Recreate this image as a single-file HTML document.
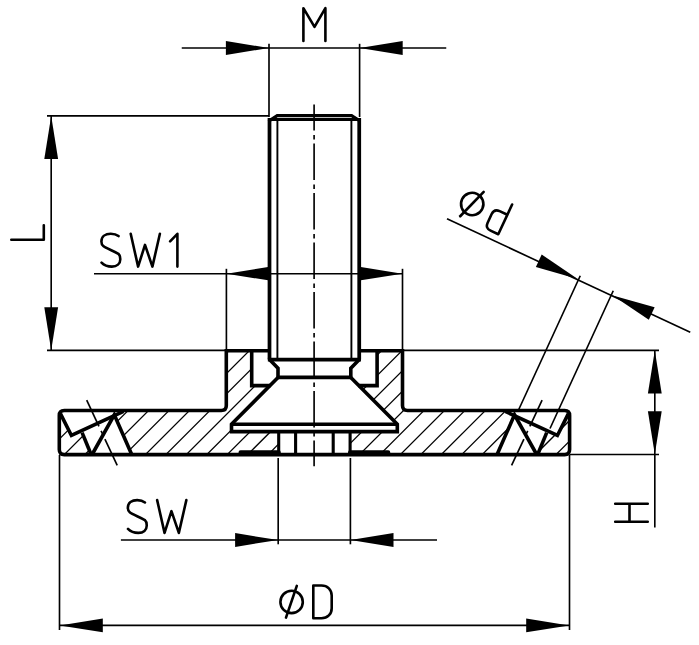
<!DOCTYPE html>
<html><head><meta charset="utf-8"><title>Drawing</title>
<style>
html,body{margin:0;padding:0;background:#fff;}
body{width:699px;height:645px;overflow:hidden;font-family:"Liberation Sans",sans-serif;}
svg{display:block;}
</style></head><body>
<svg width="699" height="645" viewBox="0 0 699 645" stroke="#000" fill="none">
<rect x="0" y="0" width="699" height="645" fill="#fff" stroke="none"/>
<defs>
<clipPath id="hl"><polygon points="226.30,350.70 251.70,350.70 251.70,385.60 270.20,385.60 231.50,424.30 231.50,431.60 278.70,431.60 278.70,454.60 131.50,454.60 114.30,414.90 114.30,410.50 226.30,410.50"/></clipPath>
<clipPath id="hr"><polygon points="402.50,350.70 377.10,350.70 377.10,385.60 358.60,385.60 397.30,424.30 397.30,431.60 350.10,431.60 350.10,454.60 497.30,454.60 514.50,414.90 514.50,410.50 402.50,410.50"/></clipPath>
<clipPath id="cl"><polygon points="59.30,410.50 60.60,414.30 71.40,435.50 81.50,430.80 90.90,453.20 90.90,454.60 59.30,454.60"/></clipPath>
<clipPath id="cr"><polygon points="569.60,410.50 568.20,414.30 557.40,435.50 547.30,430.80 537.90,453.20 537.90,454.60 569.60,454.60"/></clipPath>
</defs>
<g clip-path="url(#hl)" stroke-width="1.25">
<line x1="112.30" y1="365.00" x2="280.70" y2="196.60"/>
<line x1="112.30" y1="385.45" x2="280.70" y2="217.05"/>
<line x1="112.30" y1="405.90" x2="280.70" y2="237.50"/>
<line x1="112.30" y1="426.35" x2="280.70" y2="257.95"/>
<line x1="112.30" y1="446.80" x2="280.70" y2="278.40"/>
<line x1="112.30" y1="467.25" x2="280.70" y2="298.85"/>
<line x1="112.30" y1="487.70" x2="280.70" y2="319.30"/>
<line x1="112.30" y1="508.15" x2="280.70" y2="339.75"/>
<line x1="112.30" y1="528.60" x2="280.70" y2="360.20"/>
<line x1="112.30" y1="549.05" x2="280.70" y2="380.65"/>
<line x1="112.30" y1="569.50" x2="280.70" y2="401.10"/>
<line x1="112.30" y1="589.95" x2="280.70" y2="421.55"/>
<line x1="112.30" y1="610.40" x2="280.70" y2="442.00"/>
</g>
<g clip-path="url(#hr)" stroke-width="1.25">
<line x1="348.10" y1="363.70" x2="516.50" y2="195.30"/>
<line x1="348.10" y1="384.15" x2="516.50" y2="215.75"/>
<line x1="348.10" y1="404.60" x2="516.50" y2="236.20"/>
<line x1="348.10" y1="425.05" x2="516.50" y2="256.65"/>
<line x1="348.10" y1="445.50" x2="516.50" y2="277.10"/>
<line x1="348.10" y1="465.95" x2="516.50" y2="297.55"/>
<line x1="348.10" y1="486.40" x2="516.50" y2="318.00"/>
<line x1="348.10" y1="506.85" x2="516.50" y2="338.45"/>
<line x1="348.10" y1="527.30" x2="516.50" y2="358.90"/>
<line x1="348.10" y1="547.75" x2="516.50" y2="379.35"/>
<line x1="348.10" y1="568.20" x2="516.50" y2="399.80"/>
<line x1="348.10" y1="588.65" x2="516.50" y2="420.25"/>
<line x1="348.10" y1="609.10" x2="516.50" y2="440.70"/>
</g>
<g clip-path="url(#cl)" stroke-width="1.25">
<line x1="57.30" y1="420.40" x2="92.90" y2="384.80"/>
<line x1="57.30" y1="441.00" x2="92.90" y2="405.40"/>
<line x1="57.30" y1="461.60" x2="92.90" y2="426.00"/>
<line x1="57.30" y1="482.20" x2="92.90" y2="446.60"/>
</g>
<g clip-path="url(#cr)" stroke-width="1.25">
<line x1="535.90" y1="412.90" x2="571.60" y2="377.20"/>
<line x1="535.90" y1="433.50" x2="571.60" y2="397.80"/>
<line x1="535.90" y1="454.10" x2="571.60" y2="418.40"/>
<line x1="535.90" y1="474.70" x2="571.60" y2="439.00"/>
</g>
<line x1="181.75" y1="48.00" x2="446.25" y2="48.00" stroke-width="1.65" stroke-linecap="butt" />
<line x1="269.00" y1="43.80" x2="269.00" y2="117.00" stroke-width="1.65" stroke-linecap="butt" />
<line x1="359.60" y1="43.80" x2="359.60" y2="117.00" stroke-width="1.65" stroke-linecap="butt" />
<polygon points="268.90,48.00 225.90,54.90 225.90,41.10" fill="#000" stroke="none"/>
<polygon points="359.70,48.00 402.70,41.10 402.70,54.90" fill="#000" stroke="none"/>
<line x1="47.00" y1="115.80" x2="269.00" y2="115.80" stroke-width="1.65" stroke-linecap="butt" />
<line x1="47.00" y1="350.30" x2="226.30" y2="350.30" stroke-width="1.65" stroke-linecap="butt" />
<line x1="51.20" y1="116.00" x2="51.20" y2="350.00" stroke-width="1.65" stroke-linecap="butt" />
<polygon points="51.20,116.00 58.10,159.00 44.30,159.00" fill="#000" stroke="none"/>
<polygon points="51.20,350.20 44.30,307.20 58.10,307.20" fill="#000" stroke="none"/>
<line x1="94.00" y1="273.70" x2="402.50" y2="273.70" stroke-width="1.65" stroke-linecap="butt" />
<line x1="226.40" y1="268.80" x2="226.40" y2="350.00" stroke-width="1.65" stroke-linecap="butt" />
<line x1="402.50" y1="268.80" x2="402.50" y2="350.00" stroke-width="1.65" stroke-linecap="butt" />
<polygon points="226.60,273.70 269.60,266.80 269.60,280.60" fill="#000" stroke="none"/>
<polygon points="402.30,273.70 359.30,280.60 359.30,266.80" fill="#000" stroke="none"/>
<line x1="402.50" y1="350.30" x2="659.00" y2="350.30" stroke-width="1.65" stroke-linecap="butt" />
<line x1="569.60" y1="454.50" x2="659.00" y2="454.50" stroke-width="1.65" stroke-linecap="butt" />
<line x1="654.80" y1="351.00" x2="654.80" y2="527.50" stroke-width="1.65" stroke-linecap="butt" />
<polygon points="654.80,350.40 661.70,393.40 647.90,393.40" fill="#000" stroke="none"/>
<polygon points="654.80,454.30 647.90,411.30 661.70,411.30" fill="#000" stroke="none"/>
<line x1="120.90" y1="540.00" x2="437.00" y2="540.00" stroke-width="1.65" stroke-linecap="butt" />
<line x1="278.20" y1="458.00" x2="278.20" y2="544.30" stroke-width="1.65" stroke-linecap="butt" />
<line x1="350.40" y1="458.00" x2="350.40" y2="544.30" stroke-width="1.65" stroke-linecap="butt" />
<polygon points="278.10,540.00 235.10,546.90 235.10,533.10" fill="#000" stroke="none"/>
<polygon points="350.50,540.00 393.50,533.10 393.50,546.90" fill="#000" stroke="none"/>
<line x1="59.50" y1="455.00" x2="59.50" y2="630.00" stroke-width="1.65" stroke-linecap="butt" />
<line x1="569.50" y1="455.00" x2="569.50" y2="630.00" stroke-width="1.65" stroke-linecap="butt" />
<line x1="59.50" y1="625.40" x2="569.50" y2="625.40" stroke-width="1.65" stroke-linecap="butt" />
<polygon points="59.80,625.40 102.80,618.50 102.80,632.30" fill="#000" stroke="none"/>
<polygon points="569.20,625.40 526.20,632.30 526.20,618.50" fill="#000" stroke="none"/>
<line x1="447.00" y1="218.85" x2="690.25" y2="332.20" stroke-width="1.65" stroke-linecap="butt" />
<line x1="580.25" y1="275.75" x2="518.30" y2="410.50" stroke-width="1.65" stroke-linecap="butt" />
<line x1="613.25" y1="290.75" x2="550.00" y2="428.50" stroke-width="1.65" stroke-linecap="butt" />
<polygon points="577.75,278.90 535.86,266.98 541.69,254.47" fill="#000" stroke="none"/>
<polygon points="612.75,295.40 654.64,307.32 648.81,319.83" fill="#000" stroke="none"/>
<line x1="314.10" y1="104.50" x2="314.10" y2="130.40" stroke-width="1.65" stroke-linecap="butt" />
<line x1="314.10" y1="135.10" x2="314.10" y2="139.40" stroke-width="1.65" stroke-linecap="butt" />
<line x1="314.10" y1="143.60" x2="314.10" y2="179.90" stroke-width="1.65" stroke-linecap="butt" />
<line x1="314.10" y1="184.60" x2="314.10" y2="188.90" stroke-width="1.65" stroke-linecap="butt" />
<line x1="314.10" y1="193.10" x2="314.10" y2="229.40" stroke-width="1.65" stroke-linecap="butt" />
<line x1="314.10" y1="234.10" x2="314.10" y2="238.40" stroke-width="1.65" stroke-linecap="butt" />
<line x1="314.10" y1="242.60" x2="314.10" y2="278.90" stroke-width="1.65" stroke-linecap="butt" />
<line x1="314.10" y1="283.60" x2="314.10" y2="287.90" stroke-width="1.65" stroke-linecap="butt" />
<line x1="314.10" y1="292.10" x2="314.10" y2="328.40" stroke-width="1.65" stroke-linecap="butt" />
<line x1="314.10" y1="333.10" x2="314.10" y2="337.40" stroke-width="1.65" stroke-linecap="butt" />
<line x1="314.10" y1="341.60" x2="314.10" y2="377.90" stroke-width="1.65" stroke-linecap="butt" />
<line x1="314.10" y1="382.60" x2="314.10" y2="386.90" stroke-width="1.65" stroke-linecap="butt" />
<line x1="314.10" y1="391.10" x2="314.10" y2="427.40" stroke-width="1.65" stroke-linecap="butt" />
<line x1="314.10" y1="432.10" x2="314.10" y2="436.40" stroke-width="1.65" stroke-linecap="butt" />
<line x1="314.10" y1="440.60" x2="314.10" y2="466.20" stroke-width="1.65" stroke-linecap="butt" />
<line x1="511.60" y1="465.30" x2="523.90" y2="439.04" stroke-width="1.65" stroke-linecap="butt" />
<line x1="526.02" y1="434.51" x2="527.72" y2="430.89" stroke-width="1.65" stroke-linecap="butt" />
<line x1="529.84" y1="426.36" x2="542.10" y2="400.20" stroke-width="1.65" stroke-linecap="butt" />
<line x1="117.20" y1="465.30" x2="104.90" y2="439.04" stroke-width="1.65" stroke-linecap="butt" />
<line x1="102.78" y1="434.51" x2="101.08" y2="430.89" stroke-width="1.65" stroke-linecap="butt" />
<line x1="98.96" y1="426.36" x2="86.70" y2="400.20" stroke-width="1.65" stroke-linecap="butt" />
<path d="M269.5,359.6 V120.6 L277.2,115.7 H351.60 L359.30,120.6 V359.6" stroke-width="3.2" stroke-linecap="butt" stroke-linejoin="miter" fill="none" />
<line x1="269.50" y1="118.00" x2="269.50" y2="359.60" stroke-width="3.6" stroke-linecap="butt" />
<line x1="359.30" y1="118.00" x2="359.30" y2="359.60" stroke-width="3.6" stroke-linecap="butt" />
<line x1="267.90" y1="119.40" x2="360.90" y2="119.40" stroke-width="3.0" stroke-linecap="butt" />
<line x1="277.40" y1="120.00" x2="277.40" y2="359.60" stroke-width="1.9" stroke-linecap="butt" />
<line x1="351.40" y1="120.00" x2="351.40" y2="359.60" stroke-width="1.9" stroke-linecap="butt" />
<line x1="267.85" y1="359.60" x2="360.95" y2="359.60" stroke-width="3.6" stroke-linecap="butt" />
<path d="M269.5,359.6 L278.0,368.3 V377.4 M359.30,359.6 L350.80,368.3 V377.4" stroke-width="3.6" stroke-linecap="butt" stroke-linejoin="miter" fill="none" />
<path d="M277.0,377.4 H351.80" stroke-width="3.6" stroke-linecap="butt" stroke-linejoin="miter" fill="none" />
<path d="M278.0,377.4 L231.5,424.3 V431.6 H397.30 V424.3 L350.80,377.4" stroke-width="3.6" stroke-linecap="butt" stroke-linejoin="miter" fill="none" />
<line x1="231.50" y1="424.30" x2="397.30" y2="424.30" stroke-width="3.6" stroke-linecap="butt" />
<line x1="278.70" y1="431.60" x2="278.70" y2="454.60" stroke-width="3.1" stroke-linecap="butt" />
<line x1="295.60" y1="431.60" x2="295.60" y2="454.60" stroke-width="3.1" stroke-linecap="butt" />
<line x1="333.20" y1="431.60" x2="333.20" y2="454.60" stroke-width="3.1" stroke-linecap="butt" />
<line x1="350.10" y1="431.60" x2="350.10" y2="454.60" stroke-width="3.1" stroke-linecap="butt" />
<path d="M269.5,350.7 H226.3 V405.5 Q226.3,410.5 221.3,410.5 H64.3 Q59.3,410.5 59.3,415.5 V449.6 Q59.3,454.6 64.3,454.6 H564.6 Q569.6,454.6 569.6,449.6 V415.5 Q569.6,410.5 564.6,410.5 H407.50 Q402.50,410.5 402.50,405.5 V350.7 H359.30" stroke-width="3.6" stroke-linecap="butt" stroke-linejoin="miter" fill="none" />
<path d="M251.7,350.7 V385.6 H270.5 M377.10,350.7 V385.6 H358.30" stroke-width="3.6" stroke-linecap="butt" stroke-linejoin="miter" fill="none" />
<path d="M240.6,452.4 H278.7 M388.20,452.4 H350.10" stroke-width="4.2" stroke-linecap="round" stroke-linejoin="miter" fill="none" />
<path d="M497.30,454 L514.50,414.9 L536.40,454" stroke-width="3.6" stroke-linecap="butt" stroke-linejoin="miter" fill="none" />
<path d="M537.90,454 L546.70,432.6" stroke-width="3.6" stroke-linecap="butt" stroke-linejoin="miter" fill="none" />
<path d="M505.30,411.4 L557.40,435.5 L568.40,413.6" stroke-width="3.6" stroke-linecap="butt" stroke-linejoin="miter" fill="none" />
<path d="M131.50,454 L114.30,414.9 L92.40,454" stroke-width="3.6" stroke-linecap="butt" stroke-linejoin="miter" fill="none" />
<path d="M90.90,454 L82.10,432.6" stroke-width="3.6" stroke-linecap="butt" stroke-linejoin="miter" fill="none" />
<path d="M123.50,411.4 L71.40,435.5 L60.40,413.6" stroke-width="3.6" stroke-linecap="butt" stroke-linejoin="miter" fill="none" />
<path d="M303.4,41 V8.2 L314.5,26.9 L325.4,8.2 V41" stroke-width="2.6" stroke-linecap="round" stroke-linejoin="round" fill="none" />
<path d="M17.1,2.3 C15.2,0.8 12.5,0 9.3,0 C4,0 0,2.8 0,7.6 C0,9.8 0.7,11.2 1.9,12.2 C4.5,14.4 12,17 17,20 C18.4,21.2 18.9,23 18.9,25.4 C18.9,30 15.5,32.8 10.5,32.8 C6,32.8 2.5,31.3 0.15,28.8 M29.3,0 L36.7,32.8 L43.6,11.1 L51,32.8 L58.5,0 M68.7,7.5 L76,0 V32.8" stroke-width="2.6" stroke-linecap="round" stroke-linejoin="round" fill="none" transform="translate(101.4,233.8)"/>
<path d="M17.1,2.3 C15.2,0.8 12.5,0 9.3,0 C4,0 0,2.8 0,7.6 C0,9.8 0.7,11.2 1.9,12.2 C4.5,14.4 12,17 17,20 C18.4,21.2 18.9,23 18.9,25.4 C18.9,30 15.5,32.8 10.5,32.8 C6,32.8 2.5,31.3 0.15,28.8 M29.3,0 L36.7,32.8 L43.6,11.1 L51,32.8 L58.5,0" stroke-width="2.6" stroke-linecap="round" stroke-linejoin="round" fill="none" transform="translate(127.85,500.1)"/>
<circle cx="291.6" cy="601.95" r="11.2" stroke-width="2.6" fill="none"/>
<path d="M286.0,617.6 L296.8,585.9" stroke-width="2.6" stroke-linecap="round" stroke-linejoin="round" fill="none" />
<path d="M313.3,585.5 V618.3 H321.5 C327.5,618.3 331.7,614 331.7,608.2 V595.6 C331.7,589.8 327.5,585.5 321.5,585.5 Z" stroke-width="2.6" stroke-linecap="round" stroke-linejoin="round" fill="none" />
<g transform="translate(465.27,218.86) rotate(25)">
<circle cx="0" cy="-16.4" r="11.2" stroke-width="2.6" fill="none"/>
<path d="M-5.7,-0.2 L5.3,-32.2" stroke-width="2.6" stroke-linecap="round" stroke-linejoin="round" fill="none" />
<path d="M36.4,0 V-32.8 M36.4,-21.5 H27.9 Q21.9,-21.5 21.9,-15.5 V-6 Q21.9,0 27.9,0 H36.4" stroke-width="2.6" stroke-linecap="round" stroke-linejoin="round" fill="none" />
</g>
<path d="M11.3,239.7 H43.8 V225.3" stroke-width="2.6" stroke-linecap="round" stroke-linejoin="round" fill="none" />
<path d="M615.2,503.8 H647.75 M615.2,521.8 H647.75 M629.5,503.8 V521.8" stroke-width="2.6" stroke-linecap="round" stroke-linejoin="round" fill="none" />
</svg>
</body></html>
